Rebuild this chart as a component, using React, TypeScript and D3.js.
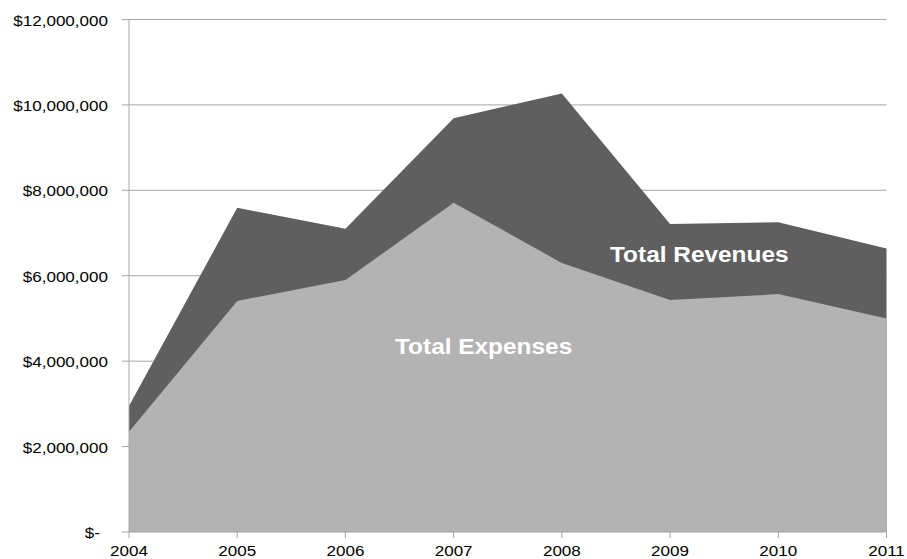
import React from "react";
import * as d3 from "d3";

const years = [2004, 2005, 2006, 2007, 2008, 2009, 2010, 2011];
const revenues = [2950000, 7590000, 7100000, 9690000, 10270000, 7210000, 7250000, 6640000];
const expenses = [2350000, 5410000, 5900000, 7710000, 6300000, 5430000, 5570000, 5000000];
const yTicks = [0, 2000000, 4000000, 6000000, 8000000, 10000000, 12000000];

const W = 907, H = 559;
const left = 129, right = 886.5, top = 19.5, bottom = 532;

export default function App() {
  const x = d3.scaleLinear().domain([2004, 2011]).range([left, right]);
  const y = d3.scaleLinear().domain([0, 12000000]).range([bottom, top]);
  const revPath = d3.area<number>().x((_, i) => x(years[i])).y0(bottom).y1((d) => y(d))(revenues) || "";
  const expPath = d3.area<number>().x((_, i) => x(years[i])).y0(bottom).y1((d) => y(d))(expenses) || "";
  const fmt = (v: number) => (v === 0 ? "$-" : "$" + d3.format(",")(v));
  const font = "Liberation Sans, Arial, sans-serif";
  const sx = 1.1;
  return (
    <div style={{ position: "absolute", left: 0, top: 0 }}>
      <svg width={W} height={H} style={{ display: "block", background: "#fff" }} fontFamily={font}>
        {yTicks.map((t) => (
          <g key={t}>
            {t > 0 && <line x1={left} x2={right} y1={y(t)} y2={y(t)} stroke="#a6a6a6" strokeWidth={1} />}
            <line x1={left - 7} x2={left} y1={y(t)} y2={y(t)} stroke="#a6a6a6" strokeWidth={1} />
            <text
              transform={`translate(${t === 0 ? 100 : 108},${y(t) + 6}) scale(${sx},1)`}
              textAnchor="end"
              fontSize={15.5}
              fill="#000"
            >
              {fmt(t)}
            </text>
          </g>
        ))}
        <path d={revPath} fill="#5f5f5f" />
        <path d={expPath} fill="#b3b3b3" />
        <line x1={left} x2={left} y1={top} y2={bottom} stroke="#a6a6a6" strokeWidth={1} />
        <line x1={left} x2={right} y1={bottom} y2={bottom} stroke="#a6a6a6" strokeWidth={1} />
        {years.map((yr) => (
          <g key={yr}>
            <line x1={x(yr)} x2={x(yr)} y1={bottom} y2={bottom + 6} stroke="#a6a6a6" strokeWidth={1} />
            <text
              transform={`translate(${x(yr)},${bottom + 23.5}) scale(1.1,1)`}
              textAnchor="middle"
              fontSize={15.5}
              fill="#000"
            >
              {yr}
            </text>
          </g>
        ))}
        <text transform={`translate(610,262) scale(1.085,1)`} fontSize={22.5} fontWeight="bold" fill="#fff">Total Revenues</text>
        <text transform={`translate(395,354) scale(1.085,1)`} fontSize={22.5} fontWeight="bold" fill="#fff">Total Expenses</text>
      </svg>
    </div>
  );
}
